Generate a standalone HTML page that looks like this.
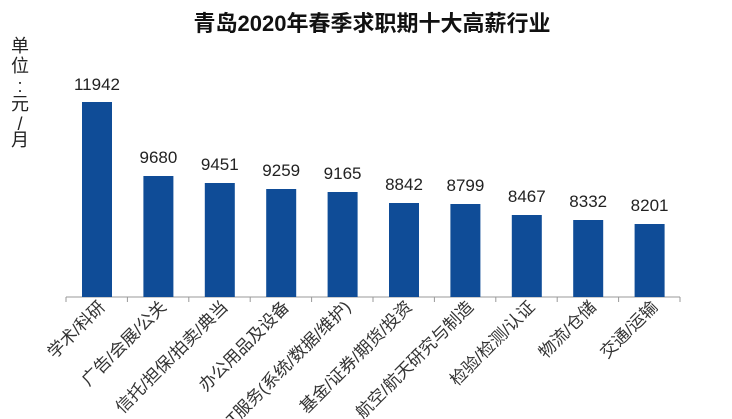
<!DOCTYPE html>
<html><head><meta charset="utf-8"><style>
body{margin:0;background:#fff;}
</style></head><body>
<svg width="732" height="419" xmlns="http://www.w3.org/2000/svg" style="display:block">
<text x="372" y="31" text-anchor="middle" font-family="'Liberation Sans','Noto Sans CJK SC',sans-serif" font-weight="bold" font-size="22" fill="#111">青岛2020年春季求职期十大高薪行业</text>
<g font-family="'Liberation Sans','Noto Sans CJK SC',sans-serif" font-size="18" fill="#222" text-anchor="middle">
<text x="20" y="52">单</text><text x="20" y="72">位</text><text x="20" y="92">:</text><text x="20" y="110">元</text><text x="20" y="130">/</text><text x="20" y="146">月</text>
</g>
<line x1="66" y1="297" x2="680" y2="297" stroke="#999" stroke-width="1"/>
<g stroke="#999" stroke-width="1">
<line x1="66" y1="297" x2="66" y2="302"/><line x1="127.4" y1="297" x2="127.4" y2="302"/><line x1="188.8" y1="297" x2="188.8" y2="302"/><line x1="250.2" y1="297" x2="250.2" y2="302"/><line x1="311.6" y1="297" x2="311.6" y2="302"/><line x1="373" y1="297" x2="373" y2="302"/><line x1="434.4" y1="297" x2="434.4" y2="302"/><line x1="495.8" y1="297" x2="495.8" y2="302"/><line x1="557.2" y1="297" x2="557.2" y2="302"/><line x1="618.6" y1="297" x2="618.6" y2="302"/><line x1="680" y1="297" x2="680" y2="302"/>
</g>
<g fill="#0f4c97">
<rect x="82" y="102" width="30" height="195"/>
<rect x="143.4" y="176" width="30" height="121"/>
<rect x="204.8" y="183" width="30" height="114"/>
<rect x="266.2" y="189" width="30" height="108"/>
<rect x="327.6" y="192" width="30" height="105"/>
<rect x="389" y="203" width="30" height="94"/>
<rect x="450.4" y="204" width="30" height="93"/>
<rect x="511.8" y="215" width="30" height="82"/>
<rect x="573.2" y="220" width="30" height="77"/>
<rect x="634.6" y="224" width="30" height="73"/>
</g>
<g font-family="'Liberation Sans',sans-serif" font-size="17" fill="#222" text-anchor="middle">
<text x="97" y="90">11942</text>
<text x="158.4" y="163">9680</text>
<text x="219.8" y="170">9451</text>
<text x="281.2" y="176">9259</text>
<text x="342.6" y="179">9165</text>
<text x="404" y="190">8842</text>
<text x="465.4" y="191">8799</text>
<text x="526.8" y="202">8467</text>
<text x="588.2" y="207">8332</text>
<text x="649.6" y="211">8201</text>
</g>
<g font-family="'Liberation Sans','Noto Sans CJK SC',sans-serif" font-size="17" fill="#333" text-anchor="end">
<text transform="translate(106,308) rotate(-45)">学术/科研</text>
<text transform="translate(167.4,308) rotate(-45)">广告/会展/公关</text>
<text transform="translate(228.8,308) rotate(-45)">信托/担保/拍卖/典当</text>
<text transform="translate(290.2,308) rotate(-45)">办公用品及设备</text>
<text transform="translate(351.6,308) rotate(-45)">IT服务(系统/数据/维护)</text>
<text transform="translate(413,308) rotate(-45)">基金/证券/期货/投资</text>
<text transform="translate(474.4,308) rotate(-45)">航空/航天研究与制造</text>
<text transform="translate(535.8,308) rotate(-45)">检验/检测/认证</text>
<text transform="translate(597.2,308) rotate(-45)">物流/仓储</text>
<text transform="translate(658.6,308) rotate(-45)">交通/运输</text>
</g>
</svg>
</body></html>
